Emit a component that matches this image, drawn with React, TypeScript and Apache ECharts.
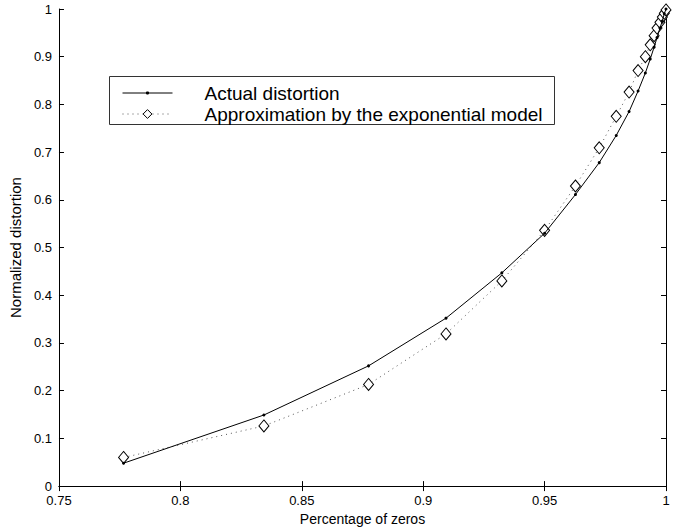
import React, { useEffect, useRef } from "react";
import * as echarts from "echarts";

const xValues = [0.7766, 0.8344, 0.8775, 0.9094, 0.9324, 0.95, 0.9627, 0.9725, 0.9795, 0.9848, 0.9885, 0.9915, 0.9935, 0.9951, 0.9963, 0.9975, 0.9985, 0.9993, 1.0];
const actualDistortion = [0.048, 0.149, 0.252, 0.352, 0.447, 0.53, 0.611, 0.678, 0.735, 0.785, 0.828, 0.866, 0.895, 0.92, 0.94, 0.96, 0.975, 0.99, 1.0];
const approxDistortion = [0.06, 0.126, 0.213, 0.319, 0.43, 0.536, 0.629, 0.709, 0.775, 0.826, 0.871, 0.9, 0.925, 0.944, 0.96, 0.972, 0.983, 0.991, 0.998];
const seriesNames = ["Actual distortion", "Approximation by the exponential model"];
const xAxisName = "Percentage of zeros";
const yAxisName = "Normalized distortion";

const FONT = "'Liberation Sans', Arial, Helvetica, sans-serif";

export default function App() {
  const ref = useRef<HTMLDivElement>(null);
  useEffect(() => {
    if (!ref.current) return;
    document.body.style.margin = "0";
    const chart = echarts.init(ref.current, undefined, { renderer: "svg" });
    const axisCommon = {
      axisLine: { show: true, lineStyle: { color: "#000", width: 1 } },
      axisTick: { show: true, inside: true, length: 5, lineStyle: { color: "#000" } },
      splitLine: { show: false },
    };
    const labelStyle = { color: "#000", fontSize: 13, fontFamily: FONT };
    const legendText = { color: "#000", fontSize: 19, fontFamily: FONT, lineHeight: 20, padding: [0, 0, 0, 27] };
    chart.setOption({
      animation: false,
      backgroundColor: "#fff",
      textStyle: { fontFamily: FONT },
      grid: { left: 56, right: 18, top: 9, bottom: 39 },
      graphic: [
        {
          type: "rect",
          shape: { x: 109.5, y: 76.5, width: 445, height: 48 },
          style: { fill: "#fff", stroke: "#333", lineWidth: 1 },
          z: 50,
        },
      ],
      legend: [
        {
          orient: "vertical",
          left: 122,
          top: 83,
          padding: 0,
          itemWidth: 50,
          itemHeight: 4,
          textStyle: legendText,
          lineStyle: { width: 1, color: "#000" },
          itemStyle: { borderWidth: 0 },
          data: [seriesNames[0]],
          z: 60,
        },
        {
          orient: "vertical",
          left: 122,
          top: 104,
          padding: 0,
          itemWidth: 50,
          itemHeight: 11,
          textStyle: legendText,
          lineStyle: { width: 1, color: "#555" },
          itemStyle: { borderWidth: 1, borderColor: "#000" },
          data: [seriesNames[1]],
          z: 60,
        },
      ],
      xAxis: [
        {
          type: "value",
          min: 0.75,
          max: 1,
          interval: 0.05,
          position: "bottom",
          name: xAxisName,
          nameLocation: "middle",
          nameGap: 21,
          nameTextStyle: { color: "#000", fontSize: 14, fontFamily: FONT },
          axisLabel: { ...labelStyle, margin: 8, formatter: (v: number) => String(+v.toFixed(2)) },
          ...axisCommon,
        },
        {
          type: "value",
          min: 0.75,
          max: 1,
          interval: 0.05,
          position: "top",
          axisLabel: { show: false },
          ...axisCommon,
        },
      ],
      yAxis: [
        {
          type: "value",
          min: 0,
          max: 1,
          interval: 0.1,
          position: "left",
          name: yAxisName,
          nameLocation: "middle",
          nameGap: 27,
          nameTextStyle: { color: "#000", fontSize: 15, fontFamily: FONT },
          axisLabel: { ...labelStyle, margin: 7, formatter: (v: number) => String(+v.toFixed(1)) },
          ...axisCommon,
        },
        {
          type: "value",
          min: 0,
          max: 1,
          interval: 0.1,
          position: "right",
          axisLabel: { show: false },
          ...axisCommon,
        },
      ],
      series: [
        {
          name: seriesNames[0],
          type: "line",
          data: xValues.map((x, i) => [x, actualDistortion[i]]),
          symbol: "circle",
          symbolSize: 3,
          showAllSymbol: true,
          itemStyle: { color: "#000" },
          lineStyle: { color: "#000", width: 1 },
          z: 3,
        },
        {
          name: seriesNames[1],
          type: "line",
          data: xValues.map((x, i) => [x, approxDistortion[i]]),
          symbol: "diamond",
          symbolSize: [10, 12],
          showAllSymbol: true,
          itemStyle: { color: "#fff", borderColor: "#000", borderWidth: 1 },
          lineStyle: { color: "#555", width: 1, type: [1, 4] },
          z: 2,
        },
      ],
    });
    return () => chart.dispose();
  }, []);
  return <div ref={ref} style={{ width: 684, height: 531 }} />;
}
